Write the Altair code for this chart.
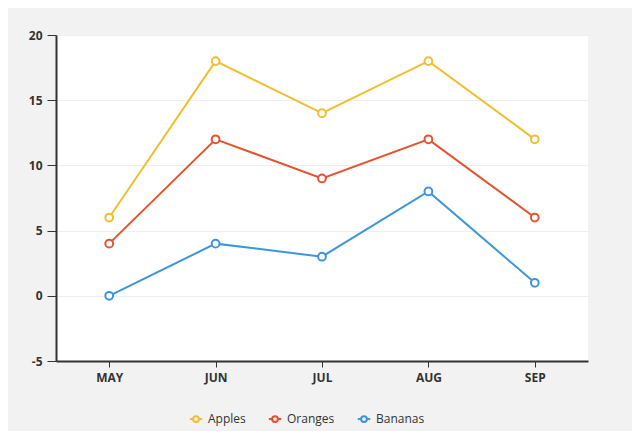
import altair as alt
import pandas as pd

months = ["MAY", "JUN", "JUL", "AUG", "SEP"]
series = ["Apples", "Oranges", "Bananas"]
apples = [6, 18, 14, 18, 12]
oranges = [4, 12, 9, 12, 6]
bananas = [0, 4, 3, 8, 1]
colors = ["#f0bf2f", "#e4522f", "#3b96d9"]

rows = []
for name, vals in zip(series, [apples, oranges, bananas]):
    for m, v in zip(months, vals):
        rows.append({"month": m, "fruit": name, "value": v})
df = pd.DataFrame(rows)

legend_symbol = ("M-1.6,0 L-0.75,0 M0.75,0 L1.6,0 "
                 "M0.75,0 A0.75,0.75 0 1,1 -0.75,0 A0.75,0.75 0 1,1 0.75,0 Z")

x = alt.X("month:N", sort=months, title=None,
          scale=alt.Scale(type="point", padding=0.5),
          axis=alt.Axis(labelAngle=0, labelFontWeight="bold", labelFontSize=12,
                        labelColor="#333333", domainColor="#333333", domainWidth=2,
                        tickColor="#333333", tickSize=6, tickWidth=1, labelPadding=5,
                        grid=False))
y = alt.Y("value:Q", title=None,
          scale=alt.Scale(domain=[-5, 20], nice=False),
          axis=alt.Axis(values=[-5, 0, 5, 10, 15, 20], labelFontWeight="bold",
                        labelExpr="datum.value + ''",
                        labelFontSize=12, labelColor="#333333", domainColor="#333333",
                        domainWidth=2, tickColor="#333333", tickSize=9, tickWidth=1,
                        labelPadding=5, gridColor="#eeeeee", gridWidth=1))
color = alt.Color("fruit:N", sort=series,
                  scale=alt.Scale(domain=series, range=colors),
                  legend=alt.Legend(title=None, orient="none", direction="horizontal",
                                    legendX=134, legendY=378, symbolType=legend_symbol,
                                    symbolSize=60, symbolStrokeWidth=2,
                                    symbolFillColor="transparent",
                                    labelFontSize=12, labelColor="#333333",
                                    columnPadding=18, symbolOffset=0, labelOffset=6))

base = alt.Chart(df)
lines = base.mark_line(strokeWidth=2).encode(x=x, y=y, color=color)
points = base.mark_point(shape="circle", filled=True, fill="white", size=60,
                         strokeWidth=2, opacity=1).encode(
    x=x, y=y, stroke=alt.Stroke("fruit:N", sort=series,
                                scale=alt.Scale(domain=series, range=colors),
                                legend=None))

chart = alt.layer(lines, points).properties(
    width=532, height=326,
    autosize=alt.AutoSizeParams(type="none"),
    padding={"left": 48, "top": 27, "right": 44, "bottom": 70},
    background="#f2f2f2",
).configure(
    font="Open Sans",
    view=alt.ViewConfig(fill="white", strokeWidth=0),
)

chart.save("out.html", embed_options={"renderer": "svg", "actions": False})
